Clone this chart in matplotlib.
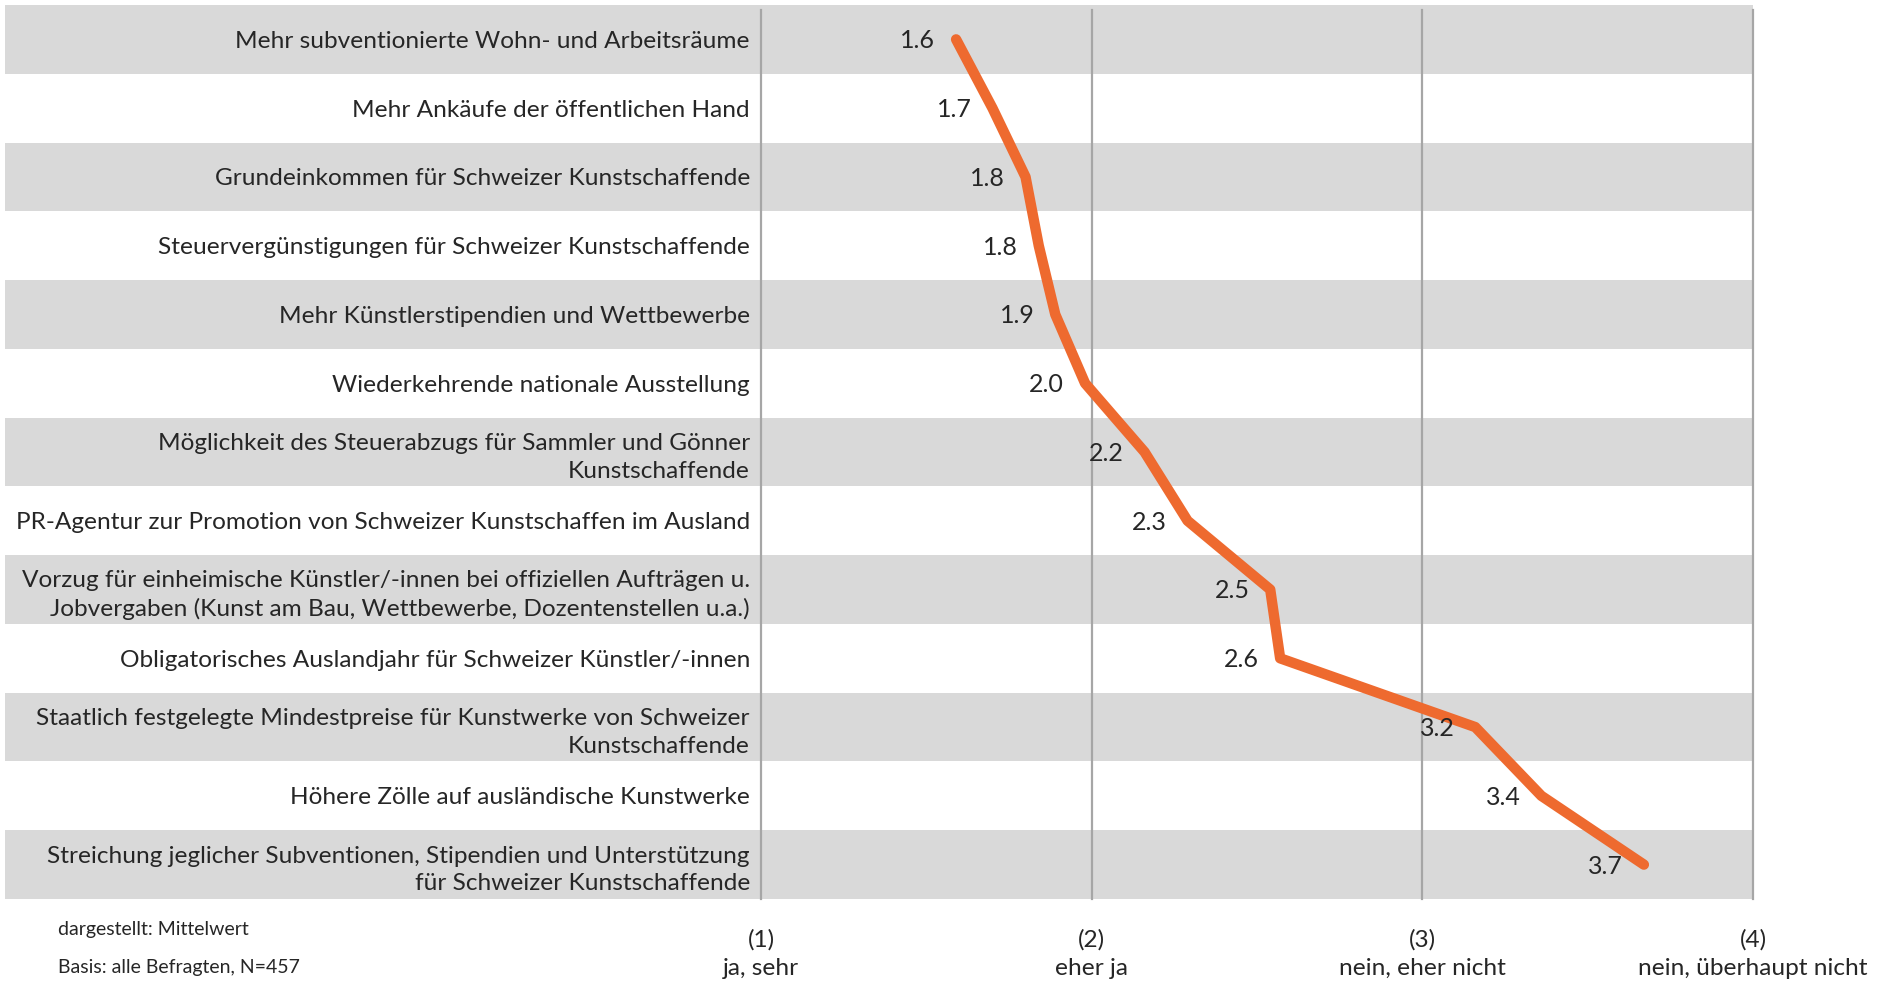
import numpy as np
import matplotlib
matplotlib.use('Agg')
import matplotlib.pyplot as plt

plt.rcParams['font.family'] = ['Lato', 'DejaVu Sans']

labels = [
    'Mehr subventionierte Wohn- und Arbeitsräume',
    'Mehr Ankäufe der öffentlichen Hand',
    'Grundeinkommen für Schweizer Kunstschaffende',
    'Steuervergünstigungen für Schweizer Kunstschaffende',
    'Mehr Künstlerstipendien und Wettbewerbe',
    'Wiederkehrende nationale Ausstellung',
    'Möglichkeit des Steuerabzugs für Sammler und Gönner\nKunstschaffende',
    'PR-Agentur zur Promotion von Schweizer Kunstschaffen im Ausland',
    'Vorzug für einheimische Künstler/-innen bei offiziellen Aufträgen u.\nJobvergaben (Kunst am Bau, Wettbewerbe, Dozentenstellen u.a.)',
    'Obligatorisches Auslandjahr für Schweizer Künstler/-innen',
    'Staatlich festgelegte Mindestpreise für Kunstwerke von Schweizer\nKunstschaffende',
    'Höhere Zölle auf ausländische Kunstwerke',
    'Streichung jeglicher Subventionen, Stipendien und Unterstützung\nfür Schweizer Kunstschaffende',
]
means = [1.59, 1.70, 1.80, 1.84, 1.89, 1.98, 2.16, 2.29, 2.54, 2.57, 3.16, 3.36, 3.67]
scale_ticks = [1, 2, 3, 4]
scale_labels = ['(1)\nja, sehr', '(2)\neher ja', '(3)\nnein, eher nicht', '(4)\nnein, überhaupt nicht']
notes = ['dargestellt: Mittelwert', 'Basis: alle Befragten, N=457']

fig = plt.figure(figsize=(18.91, 9.81), dpi=100)
ax = fig.add_axes([761 / 1891, 1 - 899 / 981, 992 / 1891, 894 / 981])

y = np.arange(len(labels))
ax.set_xlim(1, 4)
ax.set_ylim(len(labels) - 0.5, -0.5)

# grey stripes reaching under the category labels
band_left = (5 - 761) / 992
for i in y[::2]:
    ax.axhspan(i - 0.5, i + 0.5, xmin=band_left, xmax=1, color='#d9d9d9', lw=0, clip_on=False, zorder=0)

for x in scale_ticks:
    ax.axvline(x, ymin=0, ymax=0.994, color='#a6a6a6', lw=1.6, zorder=1, clip_on=False)

ax.plot(means, y, color='#ee6a2f', lw=7.5, solid_capstyle='round', zorder=3)

for v, yy in zip(means, y):
    ax.annotate(f'{v:.1f}', (v, yy), xytext=(-15, -1), textcoords='offset points',
                ha='right', va='center', fontsize=18, color='#262626', zorder=4)

ax.set_yticks(y, labels)
ax.set_xticks(scale_ticks, scale_labels)
ax.tick_params(axis='y', length=0, pad=8, labelsize=17.6, labelcolor='#262626')
ax.tick_params(axis='x', length=0, pad=21.5, labelsize=17.6, labelcolor='#262626')
for t in ax.get_yticklabels():
    t.set_linespacing(1.4)
    t.set_ha('right')
for t in ax.get_xticklabels():
    t.set_linespacing(1.45)
for s in ax.spines.values():
    s.set_visible(False)

fig.text(58 / 1891, 1 - 929 / 981, notes[0], fontsize=14, color='#262626', va='center')
fig.text(58 / 1891, 1 - 967 / 981, notes[1], fontsize=14, color='#262626', va='center')

fig.savefig('out.png', dpi=100)
